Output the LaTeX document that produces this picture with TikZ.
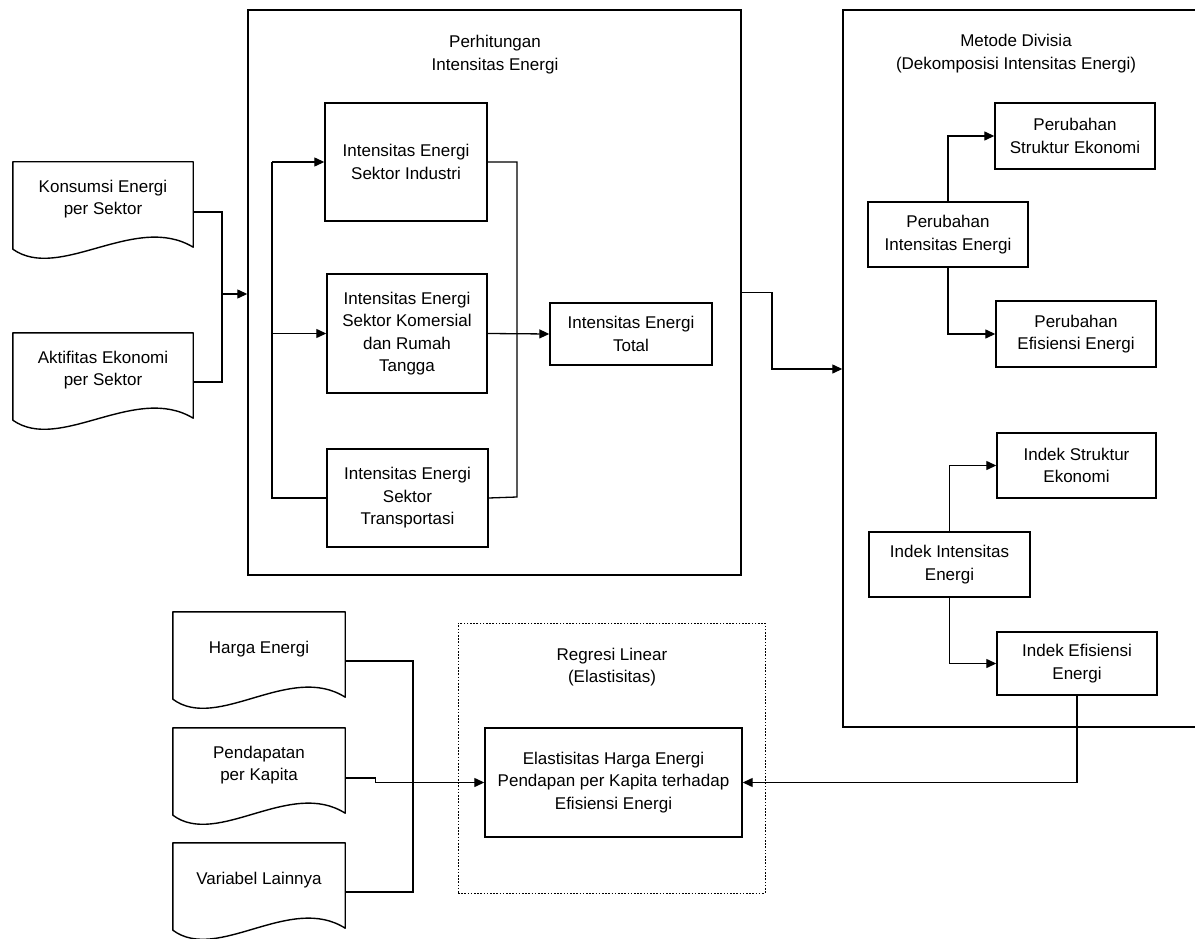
\documentclass[tikz,border=0pt]{standalone}
\usepackage{fontspec}
\setmainfont{Liberation Sans}
\usetikzlibrary{arrows.meta,calc}
\newcommand\fs{\fontsize{17}{22.5}\selectfont}
\newcommand\docoutline[1]{%
  \draw[boxline, line join=round] (#1.north west) -- (#1.north east) -- ([yshift=-11pt]#1.south east)
   .. controls ($(#1.south west)!0.68!(#1.south east)+(0,24pt)$) and ($(#1.south west)!0.26!(#1.south east)+(0,-46pt)$) .. ([yshift=-13pt]#1.south west) -- cycle;}
\tikzset{
  boxline/.style={draw=black, line width=1.4pt},
  procbox/.style={boxline, rectangle, align=center, inner sep=0pt, font=\fs},
  frame/.style={boxline, rectangle, inner sep=0pt},
  dframe/.style={draw=black, line width=1pt, dash pattern=on 1.6pt off 1.6pt, rectangle, inner sep=0pt},
  title/.style={align=center, font=\fs, inner sep=0pt},
  docnode/.style={rectangle, align=center, inner sep=0pt, minimum height=74pt, font=\fs},
  link/.style={draw=black, line width=1.3pt},
  arrow/.style={link, -{Triangle[length=10pt,width=9pt]}},
}
\begin{document}
\begin{tikzpicture}[x=1pt, y=-1pt]
\fill[white] (0,0) rectangle (1195,939);
\useasboundingbox (0,0) rectangle (1195,939);

% containers
\node[frame, minimum width=493pt, minimum height=565pt] (perh) at (494.5,292.5) {};
\node[title] (perhT) at (495,54.5) {Perhitungan\\Intensitas Energi};
\node[frame, minimum width=372pt, minimum height=717pt] (metode) at (1029,368.5) {};
\node[title] (metT) at (1016,53.5) {Metode Divisia\\(Dekomposisi Intensitas Energi)};
\node[dframe, minimum width=307pt, minimum height=270pt] (regresi) at (611.5,758) {};
\node[title] (regT) at (612,667) {Regresi Linear\\(Elastisitas)};

% documents
\node[docnode, minimum width=180pt] (kons) at (103,199) {Konsumsi Energi\\per Sektor};
\docoutline{kons}
\node[docnode, minimum width=180pt] (akt) at (103,370) {Aktifitas Ekonomi\\per Sektor};
\docoutline{akt}
\node[docnode, minimum width=172pt] (harga) at (259,649) {Harga Energi};
\docoutline{harga}
\node[docnode, minimum width=172pt] (pend) at (259,765) {Pendapatan\\per Kapita};
\docoutline{pend}
\node[docnode, minimum width=172pt] (var) at (259,880) {Variabel Lainnya};
\docoutline{var}

% process boxes
\node[procbox, minimum width=162pt, minimum height=118pt] (ind) at (406,162) {Intensitas Energi\\Sektor Industri};
\node[procbox, minimum width=160pt, minimum height=119pt] (kom) at (407,333.5) {Intensitas Energi\\Sektor Komersial\\dan Rumah\\Tangga};
\node[procbox, minimum width=161pt, minimum height=98pt] (tra) at (407.5,498) {Intensitas Energi\\Sektor\\Transportasi};
\node[procbox, minimum width=162pt, minimum height=62pt] (tot) at (631,334) {Intensitas Energi\\Total};

\node[procbox, minimum width=160pt, minimum height=66pt] (pse) at (1075,136) {Perubahan\\Struktur Ekonomi};
\node[procbox, minimum width=160pt, minimum height=65pt] (pie) at (948,234.5) {Perubahan\\Intensitas Energi};
\node[procbox, minimum width=160pt, minimum height=66pt] (pee) at (1076,334) {Perubahan\\Efisiensi Energi};
\node[procbox, minimum width=159pt, minimum height=65pt] (ise) at (1076.5,465.5) {Indek Struktur\\Ekonomi};
\node[procbox, minimum width=161pt, minimum height=65pt] (iie) at (949.5,564.5) {Indek Intensitas\\Energi};
\node[procbox, minimum width=160pt, minimum height=63pt] (iee) at (1077,663.5) {Indek Efisiensi\\Energi};
\node[procbox, minimum width=257pt, minimum height=109pt] (ela) at (613.5,782.5) {Elastisitas Harga Energi\\Pendapan per Kapita terhadap\\Efisiensi Energi};

% connectors: inputs to Perhitungan
\coordinate (j1) at (222,294);
\draw[link] ([yshift=-13pt]kons.east) -| (j1);
\draw[link] ([yshift=-12pt]akt.east) -| (j1);
\draw[arrow] (j1) -- (j1 -| perh.west);

% left bus inside Perhitungan
\coordinate (lbT) at (272,162);
\coordinate (lbB) at (272,498);
\draw[link] (tra.west) -- (lbB) -- (lbT);
\draw[arrow] (lbT) -- (ind.west);
\draw[arrow] (lbT |- kom.west) -- (kom.west);

% right bus
\coordinate (rb) at (517,497);
\draw[link] (ind.east) -| (rb) -- (tra.east);
\draw[arrow] (kom.east) -- (tot.west);

% Perhitungan -> Metode
\coordinate (j2) at (772,369);
\draw[arrow] (perh.east) -| (j2) -- (j2 -| metode.west);

% inside Metode
\draw[arrow] (pie.north) |- (pse.west);
\draw[arrow] (pie.south) |- (pee.west);
\draw[arrow] (iie.north) |- (ise.west);
\draw[arrow] (iie.south) |- (iee.west);
\draw[arrow] (iee.south) |- (ela.east);

% bottom inputs
\coordinate (bus) at (413,782);
\draw[link] ([yshift=-12pt]harga.east) -| (bus);
\draw[link] ([yshift=-12pt]var.east) -| (bus);
\draw[arrow] ([yshift=-13pt]pend.east) -- ++(30pt,0) |- (ela.west);
\end{tikzpicture}
\end{document}
